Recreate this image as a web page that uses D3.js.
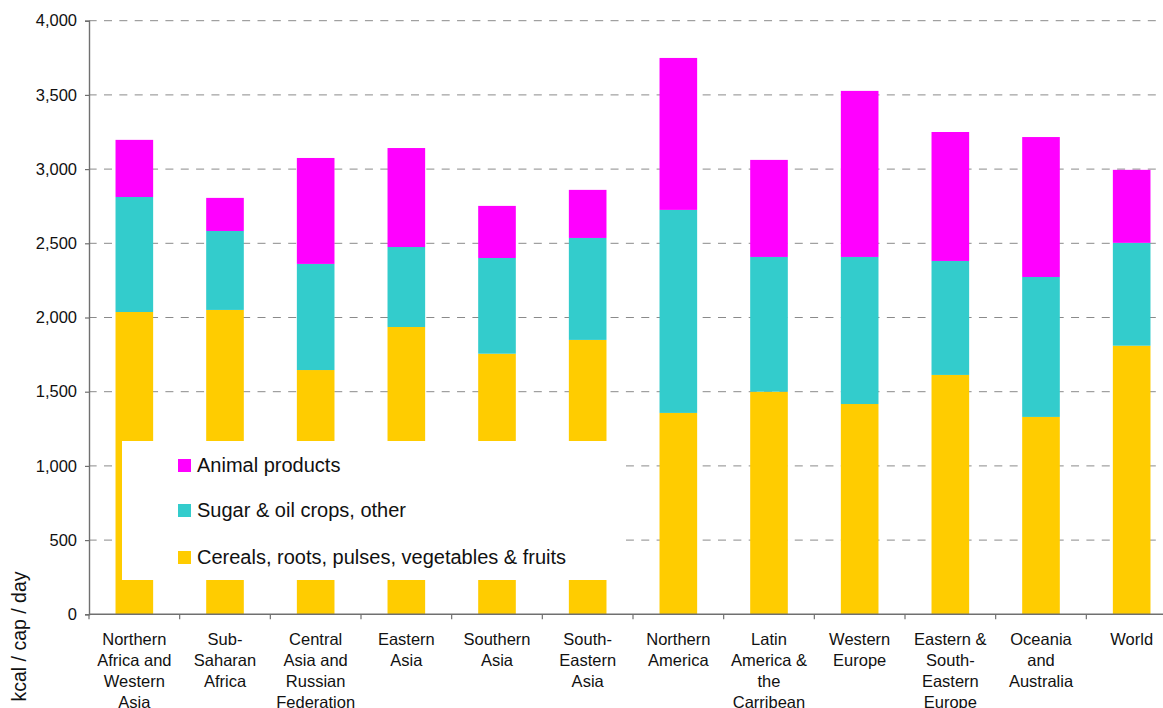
<!DOCTYPE html>
<html>
<head>
<meta charset="utf-8">
<script src="https://cdn.jsdelivr.net/npm/d3@7"></script>
<style>
  html, body { margin: 0; padding: 0; background: #fff; }
  svg { display: block; font-family: "Liberation Sans", Arial, sans-serif; }
</style>
</head>
<body>
<svg id="chart" width="1163" height="708"></svg>
<script>
// ---- data ----
const categories = [
  ["Northern", "Africa and", "Western", "Asia"],
  ["Sub-", "Saharan", "Africa"],
  ["Central", "Asia and", "Russian", "Federation"],
  ["Eastern", "Asia"],
  ["Southern", "Asia"],
  ["South-", "Eastern", "Asia"],
  ["Northern", "America"],
  ["Latin", "America &", "the", "Carribean"],
  ["Western", "Europe"],
  ["Eastern &", "South-", "Eastern", "Europe"],
  ["Oceania", "and", "Australia"],
  ["World"]
];
const cereals  = [2037, 2051, 1646, 1936, 1756, 1849, 1357, 1500, 1417, 1613, 1330, 1810];
const sugarOil = [ 775,  532,  715,  539,  645,  687, 1368,  908,  991,  768,  943,  693];
const animal   = [ 385,  223,  714,  667,  351,  324, 1024,  654, 1119,  869,  943,  492];
const seriesNames = ["Cereals, roots, pulses, vegetables & fruits", "Sugar & oil crops, other", "Animal products"];
const yTicks = [0, 500, 1000, 1500, 2000, 2500, 3000, 3500, 4000];
const yTitle = "kcal / cap / day";

// ---- build ----
const colors = {c: "#FFCC00", s: "#33CCCC", a: "#FF00FF"};
const keys = ["c", "s", "a"];
const rows = categories.map((cat, i) => ({i, c: cereals[i], s: sugarOil[i], a: animal[i]}));
const stacked = d3.stack().keys(keys)(rows);

const svg = d3.select("#chart");
const x0 = 89, x1 = 1177, yBottom = 614.3, yTop = 20.7;
const xBand = d3.scaleBand().domain(d3.range(categories.length)).range([x0, x1]).paddingInner(0.585).paddingOuter(0.2925);
const xStep = d3.scaleBand().domain(d3.range(categories.length)).range([x0, x1]).padding(0);
const y = d3.scaleLinear().domain([0, 4000]).range([yBottom, yTop]);

// gridlines
svg.append("g").selectAll("line").data(yTicks.filter(t => t > 0)).join("line")
  .attr("x1", x0).attr("x2", x1)
  .attr("y1", d => y(d)).attr("y2", d => y(d))
  .attr("stroke", "#8a8a8a").attr("stroke-width", 1)
  .attr("stroke-dasharray", "8,7.35").attr("stroke-dashoffset", 0.35);

// bars
svg.append("g").selectAll("g").data(stacked).join("g")
  .attr("fill", d => colors[d.key])
  .selectAll("rect").data(d => d).join("rect")
  .attr("x", d => xBand(d.data.i))
  .attr("width", xBand.bandwidth())
  .attr("y", d => y(d[1]))
  .attr("height", d => y(d[0]) - y(d[1]));

// legend box (white, covering)
const leg = svg.append("g");
leg.append("rect").attr("x", 122).attr("y", 441).attr("width", 504).attr("height", 139).attr("fill", "#fff");
const legItems = [
  {name: seriesNames[2], color: colors.a},
  {name: seriesNames[1], color: colors.s},
  {name: seriesNames[0], color: colors.c}
];
const legY = [459, 504, 551];
legItems.forEach((it, k) => {
  leg.append("rect").attr("x", 178).attr("y", legY[k]).attr("width", 13).attr("height", 13).attr("fill", it.color);
  leg.append("text").attr("x", 197).attr("y", legY[k] + 12.5)
    .attr("font-size", "20px").attr("fill", "#111").text(it.name);
});

// y axis
const yAxis = d3.axisLeft(y).tickValues(yTicks).tickSize(4).tickPadding(8)
  .tickFormat(d3.format(","));
const gy = svg.append("g").attr("transform", `translate(${x0},0)`).call(yAxis);
gy.select(".domain").attr("stroke", "#707070").attr("stroke-width", 1.4);
gy.selectAll(".tick line").attr("stroke", "#707070").attr("stroke-width", 1.2);
gy.selectAll(".tick text").attr("font-size", "16.5px").attr("fill", "#111")
  .attr("font-family", "Liberation Sans, Arial, sans-serif");

// x axis
const gx = svg.append("g").attr("transform", `translate(0,${yBottom})`);
gx.append("line").attr("x1", x0).attr("x2", x1).attr("stroke", "#707070").attr("stroke-width", 1.4);
const bounds = d3.range(categories.length + 1).map(i => i < categories.length ? xStep(i) : x1);
gx.selectAll("line.tk").data(bounds).join("line").attr("class", "tk")
  .attr("x1", d => d).attr("x2", d => d).attr("y1", 0).attr("y2", 5)
  .attr("stroke", "#707070").attr("stroke-width", 1.2);
const lab = gx.selectAll("text.cat").data(categories).join("text").attr("class", "cat")
  .attr("text-anchor", "middle").attr("font-size", "16.5px").attr("fill", "#111")
  .attr("transform", (d, i) => `translate(${xStep(i) + xStep.bandwidth() / 2},0)`);
lab.selectAll("tspan").data(d => d).join("tspan")
  .attr("x", 0).attr("y", (d, j) => 30.5 + j * 21).text(d => d);

// y title
svg.append("text").attr("transform", "translate(26,636.5) rotate(-90)")
  .attr("text-anchor", "middle").attr("font-size", "19.5px").attr("fill", "#111").text(yTitle);
</script>
</body>
</html>
